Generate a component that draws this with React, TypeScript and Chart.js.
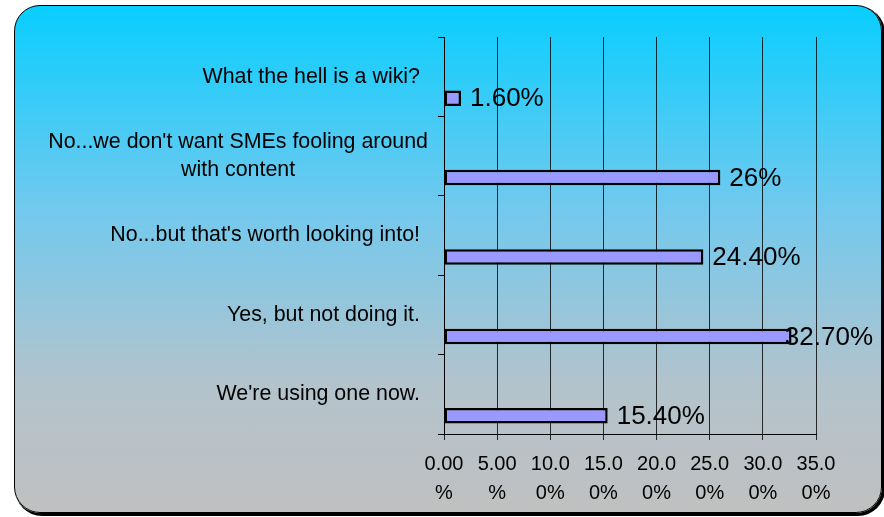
import React, { useEffect, useRef } from 'react';
import { Chart, registerables } from 'chart.js';

Chart.register(...registerables);

const categories: (string | string[])[] = [
  "What the hell is a wiki?",
  ["No...we don't want SMEs fooling around", "with content"],
  "No...but that's worth looking into!",
  "Yes, but not doing it.",
  "We're using one now.",
];
const values: number[] = [1.6, 26, 24.4, 32.7, 15.4];
const valueLabels: string[] = ["1.60%", "26%", "24.40%", "32.70%", "15.40%"];
const xTickLabels: string[] = ["0.00%", "5.00%", "10.00%", "15.00%", "20.00%", "25.00%", "30.00%", "35.00%"];
const xMin = 0;
const xMax = 35;
const xStep = 5;

const FONT = "'Liberation Sans', Arial, Helvetica, sans-serif";

const categoryLabelPlugin = {
  id: 'categoryLabels',
  afterDraw(chart: any) {
    const ctx = chart.ctx;
    const y = chart.scales.y;
    ctx.save();
    ctx.font = `21.4px ${FONT}`;
    ctx.fillStyle = '#000';
    ctx.textBaseline = 'middle';
    ctx.textAlign = 'center';
    const lineH = 28;
    const right = 420;
    categories.forEach((lab, i) => {
      const lines = Array.isArray(lab) ? lab : [lab];
      const cy = y.getPixelForTick(i);
      const w = Math.max(...lines.map((l) => ctx.measureText(l).width));
      const cx = right - w / 2 + (lines.length > 1 ? 8 : 0);
      lines.forEach((l, j) => {
        ctx.fillText(l, cx, cy + (j - (lines.length - 1) / 2) * lineH);
      });
    });
    ctx.restore();
  },
};

const valueLabelPlugin = {
  id: 'valueLabels',
  afterDatasetsDraw(chart: any) {
    const ctx = chart.ctx;
    const meta = chart.getDatasetMeta(1);
    ctx.save();
    ctx.font = `26px ${FONT}`;
    ctx.fillStyle = '#000';
    ctx.textBaseline = 'middle';
    ctx.textAlign = 'left';
    meta.data.forEach((bar: any, i: number) => {
      const t = valueLabels[i];
      const w = ctx.measureText(t).width;
      const x = Math.min(bar.x + 9, 873 - w);
      ctx.fillText(t, x, bar.y + 1);
    });
    ctx.restore();
  },
};

export default function App() {
  const ref = useRef<HTMLCanvasElement | null>(null);

  useEffect(() => {
    if (!ref.current) return;
    const chart = new Chart(ref.current, {
      type: 'bar',
      data: {
        labels: categories.map((c) => (Array.isArray(c) ? c.join(' ') : c)),
        datasets: [
          {
            label: 'empty',
            data: values.map(() => null),
            backgroundColor: 'transparent',
          },
          {
            label: 'Responses',
            data: values,
            backgroundColor: '#9999FF',
            borderColor: '#000000',
            borderWidth: 2.5,
            borderSkipped: false,
          },
        ],
      },
      options: {
        indexAxis: 'y',
        responsive: false,
        animation: false,
        categoryPercentage: 1.083,
        barPercentage: 0.36,
        layout: { padding: { top: 37, right: 68, left: 0, bottom: 0 } },
        plugins: {
          legend: { display: false },
          tooltip: { enabled: false },
          title: { display: false },
        },
        scales: {
          x: {
            type: 'linear',
            min: xMin,
            max: xMax,
            afterFit: (s: any) => { s.height = 83; },
            ticks: {
              stepSize: xStep,
              color: '#000',
              padding: 10,
              maxRotation: 0,
              autoSkip: false,
              font: { family: FONT, size: 20, lineHeight: 1.45 },
              callback: (_v: any, i: number) => {
                const s = xTickLabels[i] ?? '';
                return [s.slice(0, 4), s.slice(4)];
              },
            },
            grid: {
              color: 'rgba(0,0,0,0.8)',
              lineWidth: 1,
              drawTicks: true,
              tickLength: 6,
            },
            border: { display: true, color: '#000', width: 1 },
          },
          y: {
            type: 'category',
            afterFit: (s: any) => { s.width = 444; },
            ticks: { color: 'transparent', font: { family: FONT, size: 12 } },
            grid: {
              drawOnChartArea: false,
              drawTicks: true,
              tickLength: 6,
              color: '#000',
              lineWidth: 1,
            },
            border: { display: true, color: '#000', width: 1 },
          },
        },
      },
      plugins: [categoryLabelPlugin, valueLabelPlugin],
    } as any);
    return () => chart.destroy();
  }, []);

  return (
    <div style={{ position: 'fixed', left: 0, top: 0, width: 884, height: 517, overflow: 'hidden' }}>
      <div
        style={{
          position: 'absolute',
          left: 14,
          top: 5,
          width: 868,
          height: 508,
          boxSizing: 'border-box',
          border: '1px solid #000',
          borderRadius: 26,
          background: 'linear-gradient(to bottom, #08CEFF 0%, #72C9EE 40%, #B3C3CC 75%, #C0C0C0 100%)',
          boxShadow: '2px 2px 0 1px #000',
        }}
      />
      <canvas ref={ref} width={884} height={517} style={{ position: 'absolute', left: 0, top: 0 }} />
    </div>
  );
}
